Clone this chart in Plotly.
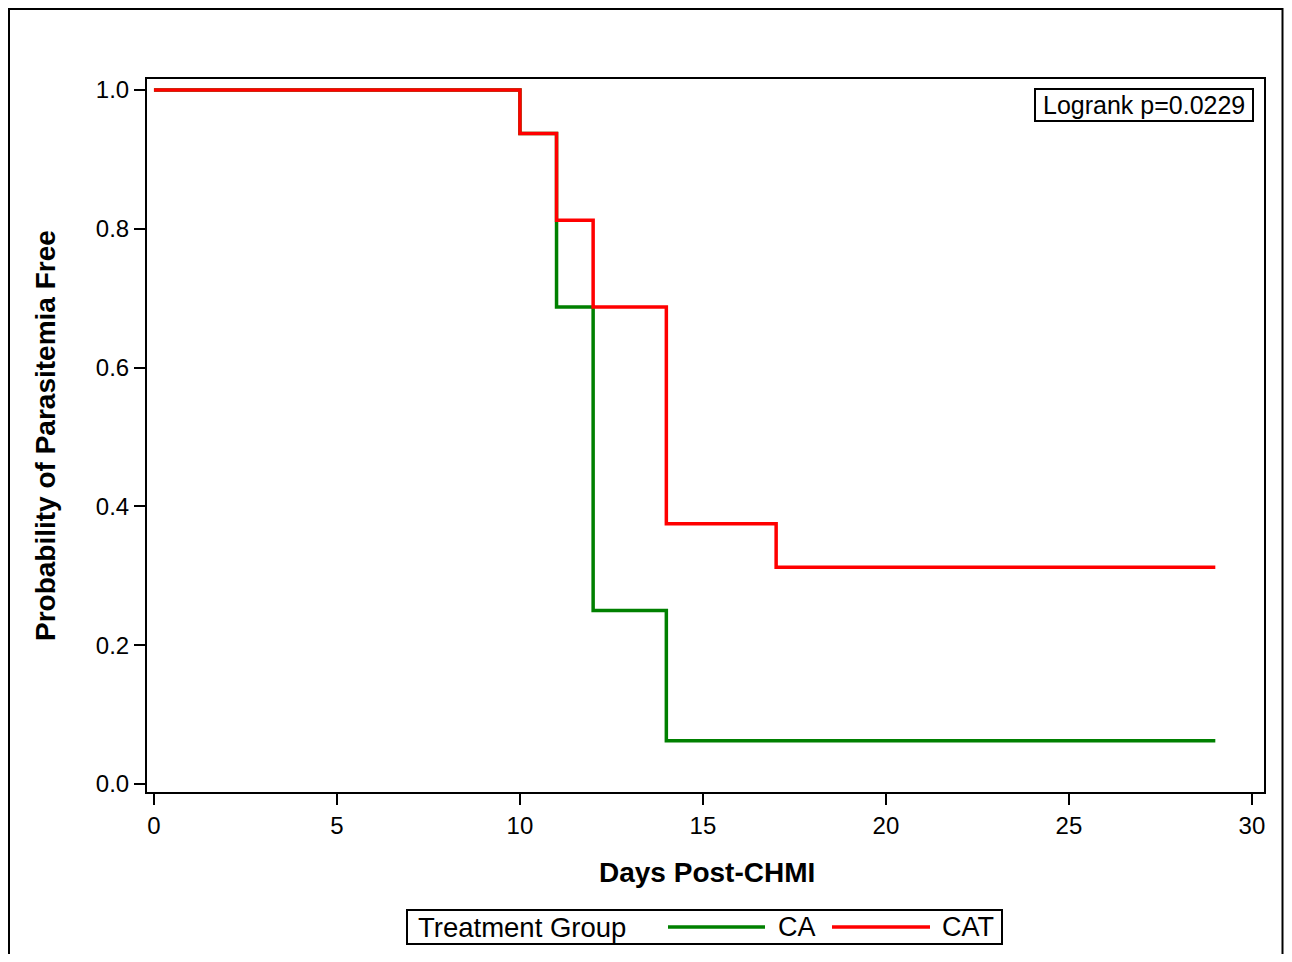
import plotly.graph_objects as go

# ---- data ----
group_names = ["CA", "CAT"]
group_colors = ["#008000", "#ff0000"]
ca_days = [0, 10, 11, 12, 14, 29]
ca_surv = [1.0, 0.9375, 0.6875, 0.25, 0.0625, 0.0625]
cat_days = [0, 10, 11, 12, 14, 17, 29]
cat_surv = [1.0, 0.9375, 0.8125, 0.6875, 0.375, 0.3125, 0.3125]
x_ticks = [0, 5, 10, 15, 20, 25, 30]
y_ticks = [0.0, 0.2, 0.4, 0.6, 0.8, 1.0]
logrank_text = "Logrank p=0.0229"
legend_title = "Treatment Group"
x_title = "Days Post-CHMI"
y_title = "Probability of Parasitemia Free"

FONT = "Arial, Liberation Sans, sans-serif"
OFF = 8  # page body margin
W, H = 1276, 946
# plot area in page pixels: x 147..1264, y 79..792
L, T = 147 - OFF, 79 - OFF
R = W - (1264 - OFF)
B = H - (792 - OFF)
PW, PH = W - L - R, H - T - B


def px(xp):
    return (xp - OFF - L) / PW


def py(yp):
    return (H - B - (yp - OFF)) / PH


fig = go.Figure()
for name, color, xs, ys in [(group_names[0], group_colors[0], ca_days, ca_surv),
                            (group_names[1], group_colors[1], cat_days, cat_surv)]:
    fig.add_trace(go.Scatter(x=xs, y=ys, mode="lines", name=name,
                             line=dict(color=color, width=3.5, shape="hv"),
                             showlegend=False))

axis_common = dict(showline=True, linecolor="black", linewidth=2, mirror=True,
                   ticks="outside", ticklen=11, tickwidth=2, tickcolor="black",
                   showgrid=False, zeroline=False,
                   tickfont=dict(family=FONT, size=24, color="black"))

fig.update_xaxes(range=[-0.19, 30.33], tickvals=x_ticks,
                 ticktext=[str(v) for v in x_ticks], **axis_common)
fig.update_yaxes(range=[-0.0115, 1.0159], tickvals=y_ticks,
                 ticktext=[f"{v:.1f}" for v in y_ticks], **axis_common)

shapes = [
    # outer frame
    dict(type="rect", xref="paper", yref="paper", x0=px(9), x1=px(1282.5),
         y0=py(970), y1=py(9), line=dict(color="black", width=2)),
    # legend box
    dict(type="rect", xref="paper", yref="paper", x0=px(407), x1=px(1002),
         y0=py(944), y1=py(910), line=dict(color="black", width=2)),
    dict(type="line", xref="paper", yref="paper", x0=px(668), x1=px(765),
         y0=py(927), y1=py(927), line=dict(color=group_colors[0], width=3.5)),
    dict(type="line", xref="paper", yref="paper", x0=px(832), x1=px(930),
         y0=py(927), y1=py(927), line=dict(color=group_colors[1], width=3.5)),
    # logrank box
    dict(type="rect", xref="paper", yref="paper", x0=px(1035), x1=px(1253),
         y0=py(121), y1=py(89), line=dict(color="black", width=2)),
]

annotations = [
    dict(text=x_title, xref="paper", yref="paper", x=px(707), y=py(872),
         xanchor="center", yanchor="middle", showarrow=False,
         font=dict(family=FONT, size=28, color="black", weight="bold")),
    dict(text=y_title, xref="paper", yref="paper", x=px(45), y=py(436),
         xanchor="center", yanchor="middle", showarrow=False, textangle=-90,
         font=dict(family=FONT, size=28, color="black", weight="bold")),
    dict(text=logrank_text, xref="paper", yref="paper", x=px(1144), y=py(105),
         xanchor="center", yanchor="middle", showarrow=False,
         font=dict(family=FONT, size=25, color="black")),
    dict(text=legend_title, xref="paper", yref="paper", x=px(416), y=py(927),
         xanchor="left", yanchor="middle", showarrow=False,
         font=dict(family=FONT, size=27.5, color="black")),
    dict(text=group_names[0], xref="paper", yref="paper", x=px(776), y=py(927),
         xanchor="left", yanchor="middle", showarrow=False,
         font=dict(family=FONT, size=27, color="black")),
    dict(text=group_names[1], xref="paper", yref="paper", x=px(940), y=py(927),
         xanchor="left", yanchor="middle", showarrow=False,
         font=dict(family=FONT, size=27, color="black")),
]

fig.update_layout(width=W, height=H, margin=dict(l=L, r=R, t=T, b=B),
                  paper_bgcolor="white", plot_bgcolor="white",
                  shapes=shapes, annotations=annotations, showlegend=False,
                  font=dict(family=FONT, color="black"))

fig.write_html("out.html")
